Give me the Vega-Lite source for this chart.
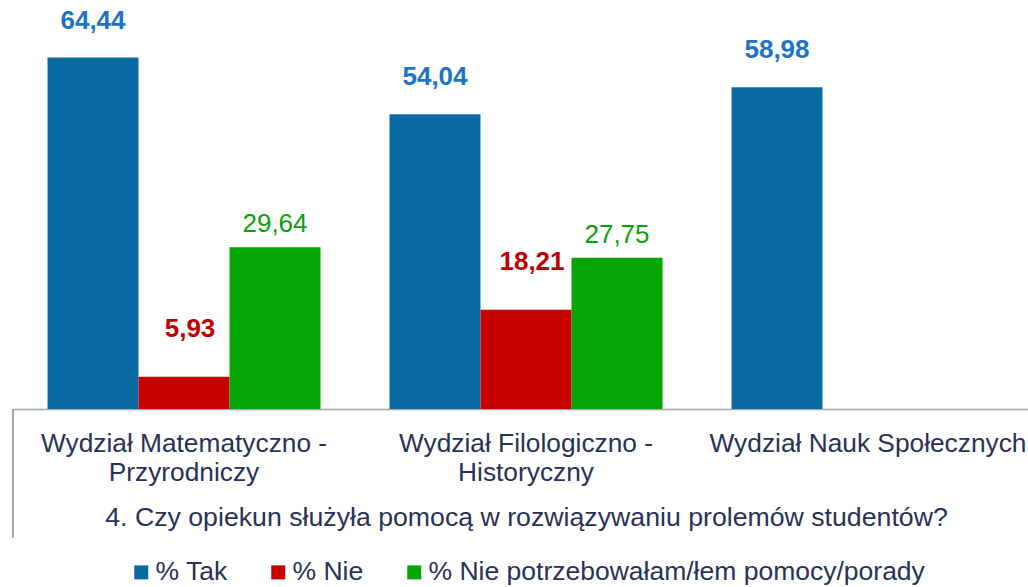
{
  "$schema": "https://vega.github.io/schema/vega-lite/v6.json",
  "width": 1026,
  "height": 409,
  "autosize": {"type": "none"},
  "padding": {"left": 13, "top": 0, "right": 0, "bottom": 178},
  "background": "white",
  "config": {
    "view": {"stroke": null},
    "locale": {"number": {"decimal": ",", "thousands": " ", "grouping": [3], "currency": ["", " zł"]}},
    "font": "Liberation Sans"
  },
  "data": {
    "values": [
      {"dept": "Wydział Matematyczno - Przyrodniczy", "series": "% Tak", "value": 64.44},
      {"dept": "Wydział Matematyczno - Przyrodniczy", "series": "% Nie", "value": 5.93},
      {"dept": "Wydział Matematyczno - Przyrodniczy", "series": "% Nie potrzebowałam/łem pomocy/porady", "value": 29.64},
      {"dept": "Wydział Filologiczno - Historyczny", "series": "% Tak", "value": 54.04},
      {"dept": "Wydział Filologiczno - Historyczny", "series": "% Nie", "value": 18.21},
      {"dept": "Wydział Filologiczno - Historyczny", "series": "% Nie potrzebowałam/łem pomocy/porady", "value": 27.75},
      {"dept": "Wydział Nauk Społecznych", "series": "% Tak", "value": 58.98}
    ]
  },
  "encoding": {
    "x": {
      "field": "dept",
      "type": "nominal",
      "sort": null,
      "scale": {"paddingInner": 0, "paddingOuter": 0},
      "axis": {
        "title": "4. Czy opiekun służyła pomocą w rozwiązywaniu prolemów studentów?",
        "titleFont": "Liberation Sans",
        "titleFontSize": 26.7,
        "titleFontWeight": "normal",
        "titleColor": "#283257",
        "titlePadding": 19,
        "labelAngle": 0,
        "labelFont": "Liberation Sans",
        "labelFontSize": 26.3,
        "labelColor": "#283257",
        "labelLineHeight": 29,
        "labelBaseline": "alphabetic",
        "labelPadding": 42,
        "labelLimit": 500,
        "labelExpr": "split(replace(datum.label, '- ', '-|'), '|')",
        "ticks": false,
        "tickSize": 0,
        "domain": true,
        "domainColor": "#A5A5A5",
        "domainWidth": 1.5,
        "grid": false
      }
    },
    "xOffset": {
      "field": "series",
      "type": "nominal",
      "sort": ["% Tak", "% Nie", "% Nie potrzebowałam/łem pomocy/porady"],
      "scale": {"paddingInner": 0, "paddingOuter": 0.379}
    },
    "y": {
      "field": "value",
      "type": "quantitative",
      "scale": {"domain": [0, 75], "nice": false, "zero": true},
      "axis": null
    }
  },
  "layer": [
    {
      "mark": {"type": "bar"},
      "encoding": {
        "color": {
          "field": "series",
          "type": "nominal",
          "sort": ["% Tak", "% Nie", "% Nie potrzebowałam/łem pomocy/porady"],
          "scale": {
            "domain": ["% Tak", "% Nie", "% Nie potrzebowałam/łem pomocy/porady"],
            "range": ["#0A6BA3", "#C80000", "#05A505"]
          },
          "legend": {
            "title": null,
            "orient": "none",
            "legendX": 115,
            "legendY": 559,
            "direction": "horizontal",
            "symbolType": "square",
            "symbolSize": 196,
            "symbolStrokeWidth": 0,
            "labelFont": "Liberation Sans",
            "labelFontSize": 26.5,
            "labelColor": "#283257",
            "labelOffset": 1,
            "columnPadding": 37,
            "labelLimit": 700
          }
        }
      }
    },
    {
      "transform": [{"filter": "datum.series === '% Tak'"}],
      "mark": {"type": "text", "dy": -29, "baseline": "alphabetic", "fontSize": 26, "fontWeight": "bold", "color": "#1C74C6", "font": "Liberation Sans"},
      "encoding": {"text": {"field": "value", "type": "quantitative", "format": ".2f"}}
    },
    {
      "transform": [{"filter": "datum.series === '% Nie'"}],
      "mark": {"type": "text", "dy": -40, "dx": 6, "baseline": "alphabetic", "fontSize": 26, "fontWeight": "bold", "color": "#C00000", "font": "Liberation Sans"},
      "encoding": {"text": {"field": "value", "type": "quantitative", "format": ".2f"}}
    },
    {
      "transform": [{"filter": "datum.series === '% Nie potrzebowałam/łem pomocy/porady'"}],
      "mark": {"type": "text", "dy": -15, "baseline": "alphabetic", "fontSize": 26, "fontWeight": "normal", "color": "#0BA00B", "font": "Liberation Sans"},
      "encoding": {"text": {"field": "value", "type": "quantitative", "format": ".2f"}}
    },
    {
      "mark": {"type": "rule", "color": "#A5A5A5", "strokeWidth": 1.5},
      "encoding": {
        "x": {"datum": "Wydział Matematyczno - Przyrodniczy", "bandPosition": 0},
        "xOffset": null,
        "y": {"datum": 0},
        "y2": {"datum": -23.5}
      }
    }
  ]
}
